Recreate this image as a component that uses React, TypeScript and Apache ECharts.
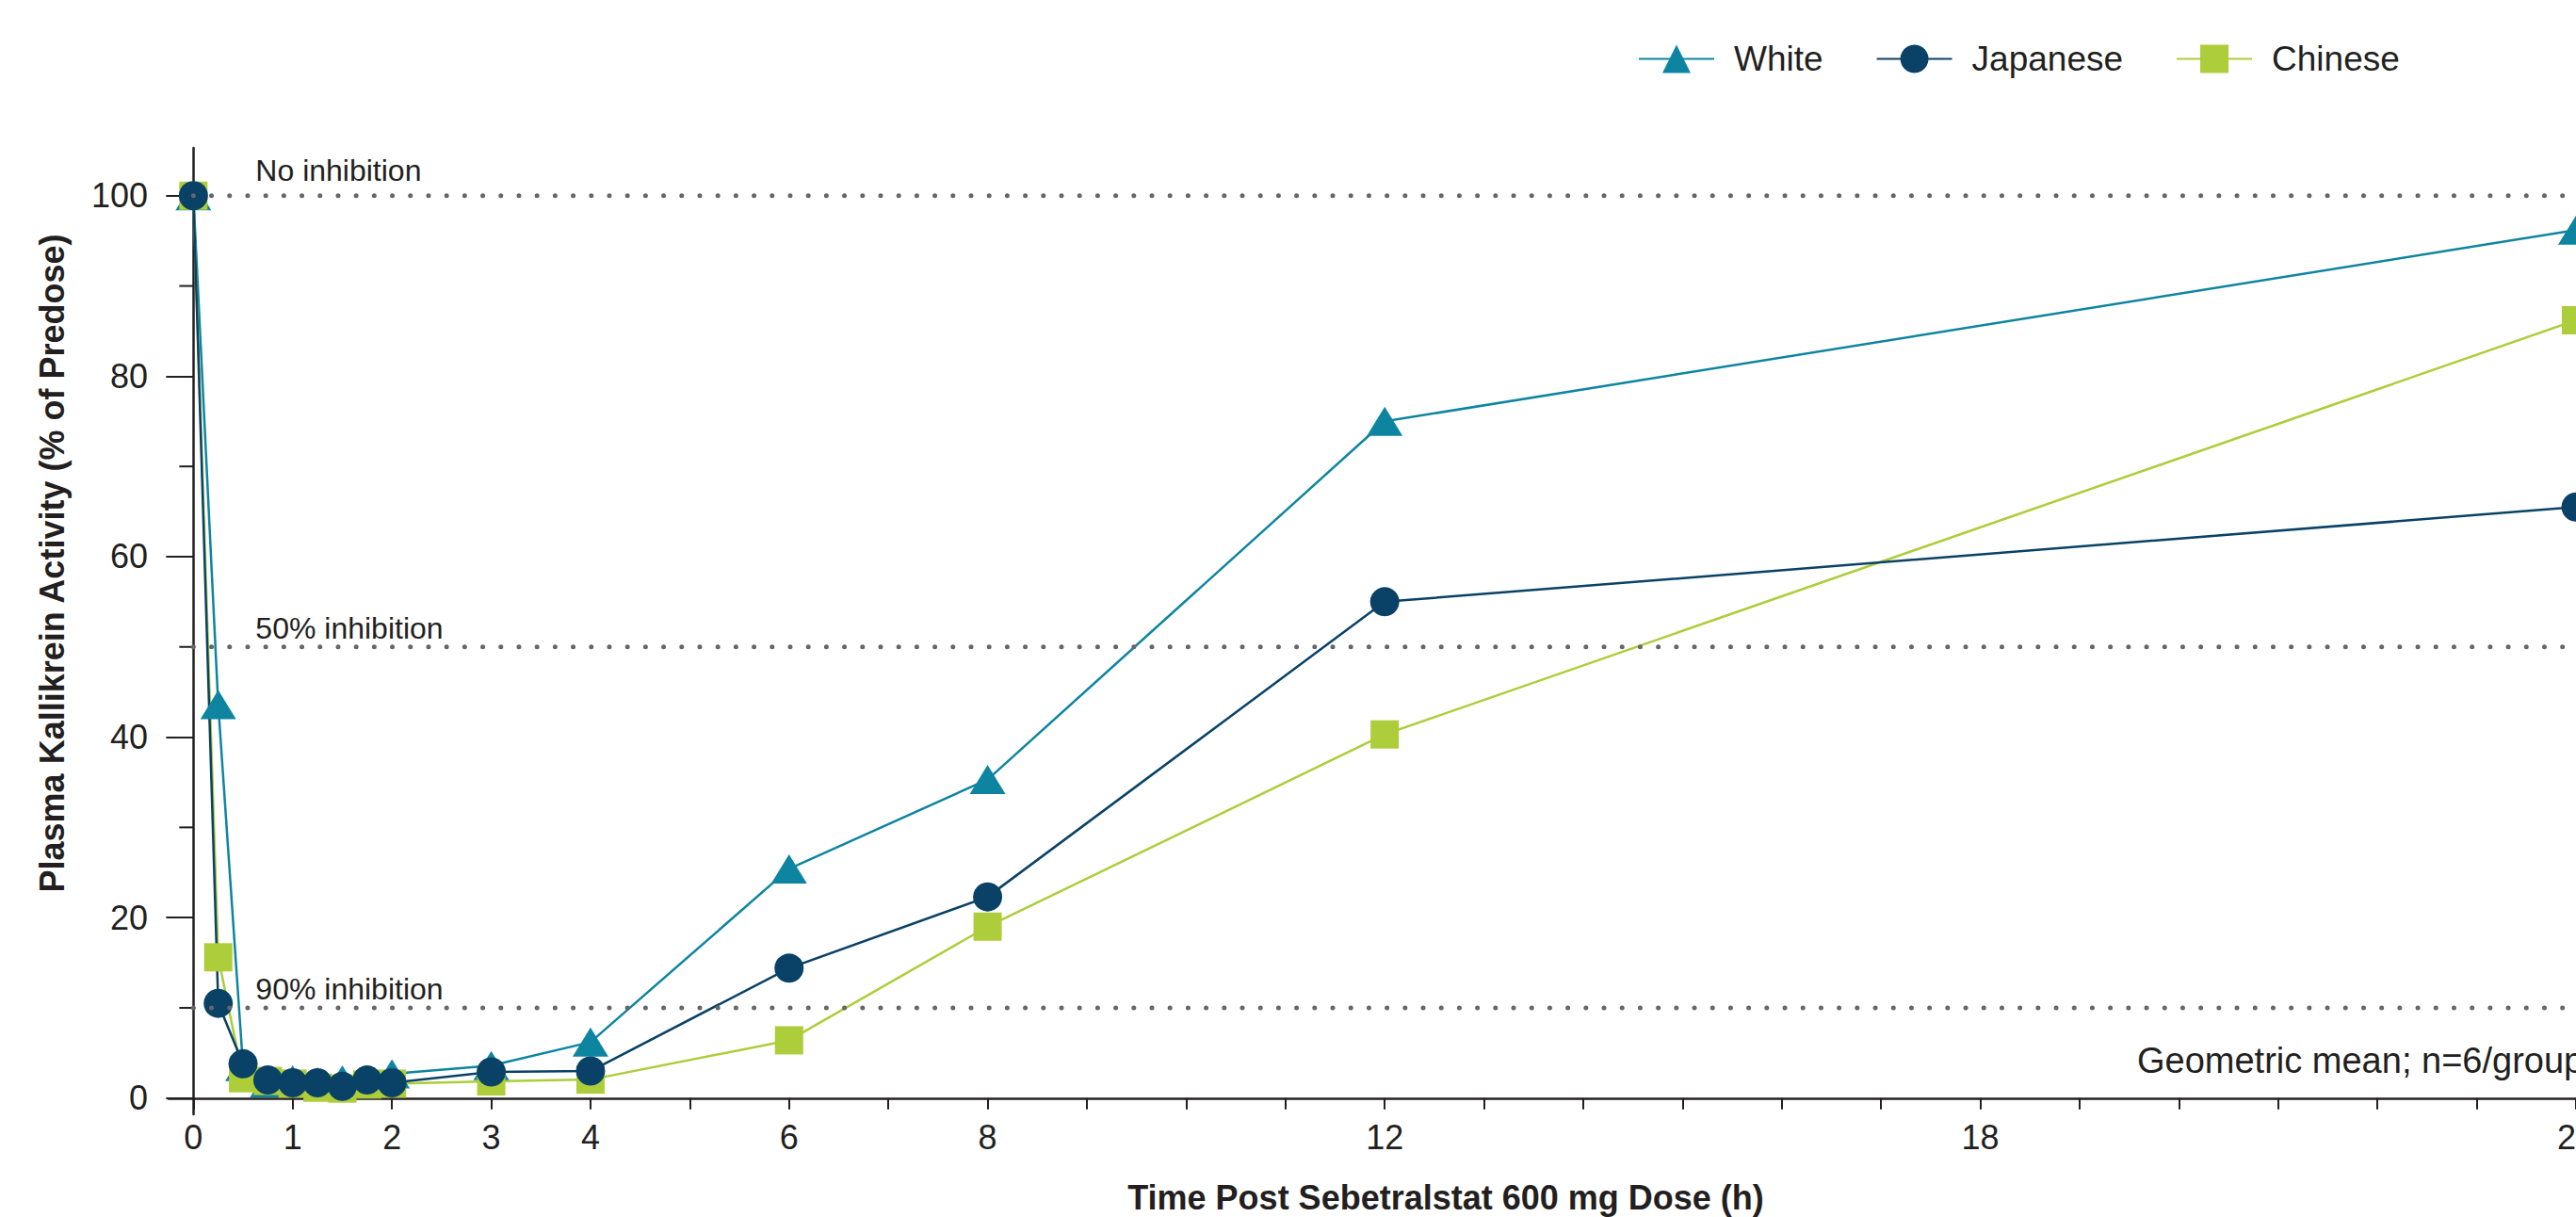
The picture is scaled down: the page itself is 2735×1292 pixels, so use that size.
import React, { useEffect, useRef } from "react";
import * as echarts from "echarts";

// ---- data ----
const timePoints = [0, 0.25, 0.5, 0.75, 1, 1.25, 1.5, 1.75, 2, 3, 4, 6, 8, 12, 24];
const whiteValues = [100, 43.6, 3.5, 1.7, 2.0, 1.8, 2.0, 1.8, 2.7, 3.6, 6.2, 25.4, 35.3, 75.0, 96.2];
const japaneseValues = [100, 10.5, 3.8, 2.0, 1.7, 1.7, 1.3, 2.0, 1.7, 2.9, 3.0, 14.4, 22.3, 55.0, 65.5];
const chineseValues = [100, 15.6, 2.2, 1.9, 1.6, 1.15, 1.05, 1.5, 1.6, 1.85, 2.05, 6.4, 19.0, 40.3, 86.2];

const legendNames = ["White", "Japanese", "Chinese"];
const xTickValues = [0, 1, 2, 3, 4, 5, 6, 7, 8, 9, 10, 11, 12, 13, 14, 15, 16, 17, 18, 19, 20, 21, 22, 23, 24];
const xLabelValues = [0, 1, 2, 3, 4, 6, 8, 12, 18, 24];
const yLabelValues = [0, 20, 40, 60, 80, 100];
const yMinorTickValues = [10, 30, 50, 70, 90];
const refLineValues = [100, 50, 10];
const refLineLabels = ["No inhibition", "50% inhibition", "90% inhibition"];

const xAxisTitle = "Time Post Sebetralstat 600 mg Dose (h)";
const yAxisTitle = "Plasma Kallikrein Activity (% of Predose)";
const footnote = "Geometric mean; n=6/group";

// ---- style ----
const FONT = '"Liberation Sans", Arial, Helvetica, sans-serif';
const INK = "#231f20";
const C_WHITE = "#0e85a0";
const C_JAPANESE = "#0a4166";
const C_CHINESE = "#adcd3a";
const X_MIN = -0.25;
const X_MAX = 24;
const Y_MIN = -1.8;
const Y_MAX = 105.3;

const pairs = (vals: number[]) => timePoints.map((t, i) => [t, vals[i]]);

export default function App() {
  const ref = useRef<HTMLDivElement>(null);

  useEffect(() => {
    if (!ref.current) return;
    document.documentElement.style.overflow = "hidden";
    document.body.style.overflow = "hidden";
    const chart = echarts.init(ref.current, null, { renderer: "svg" });

    const lineSeries = (name: string, vals: number[], color: string, symbol: string, size: any) => ({
      name,
      type: "line",
      data: pairs(vals),
      symbol,
      symbolSize: size,
      itemStyle: { color },
      lineStyle: { color, width: 2.5 },
      emphasis: { disabled: true },
      z: 3,
    });

    chart.setOption({
      animation: false,
      backgroundColor: "#ffffff",
      textStyle: { fontFamily: FONT },
      grid: {
        left: 179,
        right: 0,
        top: 157,
        bottom: 109,
        containLabel: false,
        outerBoundsMode: "none",
      },
      legend: {
        data: legendNames,
        left: 1739,
        top: 44,
        padding: 0,
        itemWidth: 80,
        itemHeight: 37.5,
        itemGap: 56,
        selectedMode: false,
        textStyle: { fontSize: 37, color: INK, fontFamily: FONT, padding: [0, 0, 0, 16] },
      },
      xAxis: {
        type: "value",
        min: X_MIN,
        max: X_MAX,
        axisLine: { show: true, onZero: true, lineStyle: { color: INK, width: 2.5 } },
        axisTick: { show: true, customValues: xTickValues, length: 12, lineStyle: { color: INK, width: 2 } },
        axisLabel: { customValues: xLabelValues, margin: 6, fontSize: 36, color: INK, fontFamily: FONT },
        splitLine: { show: false },
      },
      yAxis: {
        type: "value",
        min: Y_MIN,
        max: Y_MAX,
        axisLine: { show: true, onZero: true, lineStyle: { color: INK, width: 2.5 } },
        axisTick: { show: true, customValues: yLabelValues, length: 29, lineStyle: { color: INK, width: 2 } },
        axisLabel: { customValues: yLabelValues, margin: 22, fontSize: 36, color: INK, fontFamily: FONT },
        splitLine: { show: false },
      },
      graphic: [
        {
          type: "text",
          x: 55,
          y: 598,
          rotation: Math.PI / 2,
          style: { text: yAxisTitle, font: `bold 36px ${FONT}`, align: "center", verticalAlign: "middle", fill: INK },
        },
        {
          type: "text",
          x: 1535,
          y: 1271,
          style: { text: xAxisTitle, font: `bold 36px ${FONT}`, align: "center", verticalAlign: "middle", fill: INK },
        },
        {
          type: "text",
          x: 2269,
          y: 1126,
          style: { text: footnote, font: `38px ${FONT}`, align: "left", verticalAlign: "middle", fill: INK },
        },
      ],
      series: [
        lineSeries("White", whiteValues, C_WHITE, "triangle", [38, 31]),
        lineSeries("Chinese", chineseValues, C_CHINESE, "rect", 30),
        lineSeries("Japanese", japaneseValues, C_JAPANESE, "circle", 31),
        {
          name: "minorTicks",
          type: "custom",
          silent: true,
          z: 4,
          data: yMinorTickValues.map((v) => [0, v]),
          renderItem: (params: any, api: any) => {
            const p = api.coord([0, api.value(1)]);
            return {
              type: "line",
              shape: { x1: p[0] - 15, y1: p[1], x2: p[0], y2: p[1] },
              style: { stroke: INK, lineWidth: 2 },
            };
          },
        },
        {
          name: "refLines",
          type: "custom",
          silent: true,
          z: 5,
          data: refLineValues.map((v) => [0, v]),
          renderItem: (params: any, api: any) => {
            const v = api.value(1);
            const s = api.coord([0, v]);
            const e = api.coord([X_MAX, v]);
            const lift = v === 100 ? 27 : 20;
            return {
              type: "group",
              children: [
                {
                  type: "line",
                  shape: { x1: s[0], y1: s[1], x2: e[0], y2: e[1] },
                  style: { stroke: "#666666", lineWidth: 5, lineDash: [0.001, 19.2], lineCap: "round" },
                },
                {
                  type: "text",
                  x: s[0] + 66,
                  y: s[1] - lift,
                  style: {
                    text: refLineLabels[params.dataIndex],
                    font: `32px ${FONT}`,
                    fill: INK,
                    align: "left",
                    verticalAlign: "middle",
                  },
                },
              ],
            };
          },
        },
      ],
    });

    return () => chart.dispose();
  }, []);

  return (
    <div
      ref={ref}
      style={{ position: "absolute", left: 0, top: 0, width: 2735, height: 1292, background: "#fff" }}
    />
  );
}
